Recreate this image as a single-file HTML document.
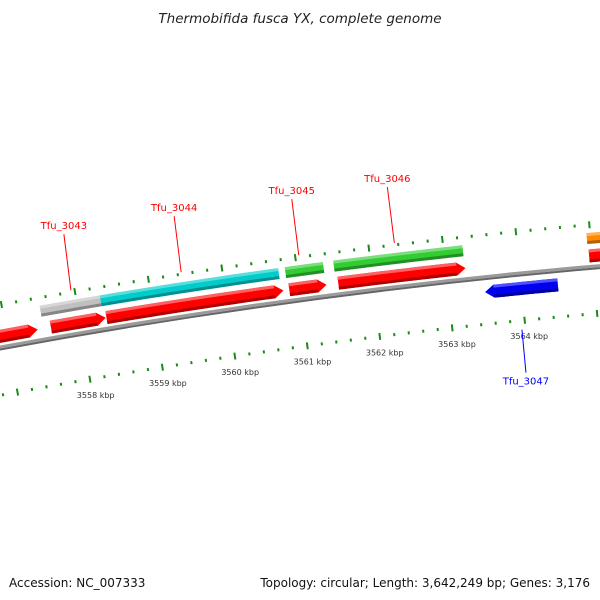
<!DOCTYPE html>
<html><head><meta charset="utf-8"><style>
html,body{margin:0;padding:0;background:#fff;}
svg{display:block;font-family:"DejaVu Sans","Liberation Sans",sans-serif;}
</style></head><body>
<svg id="c" width="600" height="600" xmlns="http://www.w3.org/2000/svg">
<text x="300" y="23" text-anchor="middle" font-size="13.5" font-style="italic" fill="#222">Thermobifida fusca YX, complete genome</text>
<text x="9" y="587" font-size="12" fill="#111">Accession: NC_007333</text>
<text x="590" y="587" text-anchor="end" font-size="12" fill="#111">Topology: circular; Length: 3,642,249 bp; Genes: 3,176</text>
<g id="g"></g>
</svg>
<script>
// data (kbp)
const fwdGenes = [[3556.3,3557.42],[3557.6,3558.35],[3558.36,3560.78],[3560.86,3561.37],[3561.53,3563.27],[3564.96,3566.5]];
const cdsStarts = [3557.5,3558.32,3560.84,3561.5,3564.95];
const cdsEnds = [3558.32,3560.75,3561.36,3563.26,3566.5];
const cdsColors = ['#c0c0c0','#00cccc','#33cc33','#33cc33','#ff8c00'];
const revGenes = [[3563.5,3564.5]];
const tickKbp = [3558,3559,3560,3561,3562,3563,3564];
const tickLabels = ['3558 kbp','3559 kbp','3560 kbp','3561 kbp','3562 kbp','3563 kbp','3564 kbp'];
const geneLabels = ['Tfu_3043','Tfu_3044','Tfu_3045','Tfu_3046'];
const geneLabelKbp = [3557.95,3559.45,3561.05,3562.35];

const g = document.getElementById('g');
const NS='http://www.w3.org/2000/svg';
function yb(x){return 347.5-0.185*x+8.2e-5*x*x;}
function sl(x){return -0.185+2*8.2e-5*x;}
function bx(k){return 82+73*(k-3558);}
function pt(k,off){const x=bx(k);const s=sl(x);const n=Math.sqrt(1+s*s);return [x+off*(-s)/n, yb(x)+off/n];}
function el(tag,attrs){const e=document.createElementNS(NS,tag);for(const a in attrs)e.setAttribute(a,attrs[a]);g.appendChild(e);return e;}
function band(k1,k2,o1,o2,fill,name){
  const ps=[];const N=12;
  for(let i=0;i<=N;i++)ps.push(pt(k1+(k2-k1)*i/N,o1));
  for(let i=N;i>=0;i--)ps.push(pt(k1+(k2-k1)*i/N,o2));
  const e=el('polygon',{points:ps.map(p=>p.join(',')).join(' '),fill:fill});
  
  
  return e;
}
function arrowGene(k1,k2,off,h,fill,light,dark,dir,name){
  const a=0.12;const ps=[];const N=12;
  const t=off-h/2,b=off+h/2;
  if(dir>0){
    for(let i=0;i<=N;i++)ps.push(pt(k1+(k2-a-k1)*i/N,t));
    ps.push(pt(k2,off));
    for(let i=N;i>=0;i--)ps.push(pt(k1+(k2-a-k1)*i/N,b));
  } else {
    ps.push(pt(k1,off));
    for(let i=0;i<=N;i++)ps.push(pt(k1+a+(k2-k1-a)*i/N,t));
    for(let i=N;i>=0;i--)ps.push(pt(k1+a+(k2-k1-a)*i/N,b));
  }
  const e=el('polygon',{points:ps.map(p=>p.join(',')).join(' '),fill:fill});
  
  
  const ka=dir>0?k1:k1+a, kb=dir>0?k2-a:k2;
  band(ka,kb,t,t+3,light,name+'-highlight');
  band(ka,kb,b-3,b,dark,name+'-shadow');
}
// backbone
band(3556,3566.5,-2,1,'#9a9a9a','backbone');
band(3556,3566.5,1,3,'#666','backbone-edge');
// ticks
function ticks(off,prefix){
  for(let k=3556;k<=3566.5;k+=0.2){
    const kk=Math.round(k*10)/10;
    const major=Math.abs(kk-Math.round(kk))<0.01;
    const len=major?7:3;
    const p1=pt(kk,off-len/2),p2=pt(kk,off+len/2);
    const e=el('line',{x1:p1[0],y1:p1[1],x2:p2[0],y2:p2[1],stroke:'#1a8a1a','stroke-width':2});
    
    
  }
}
ticks(-42,'upper-ring');
ticks(47,'lower-ring');
tickKbp.forEach((k,i)=>{
  const p=pt(k,63);
  const t=el('text',{x:p[0]+3,y:p[1]+3,'font-size':8,'text-anchor':'middle',fill:'#333'});
  t.textContent=tickLabels[i];
  
  
});
// CDS ring
cdsStarts.forEach((s,i)=>{
  band(s,cdsEnds[i],-34,-23,cdsColors[i],'cds-feature');
  band(s,cdsEnds[i],-34,-31,'rgba(255,255,255,0.35)','cds-highlight');
  band(s,cdsEnds[i],-26,-23,'rgba(0,0,0,0.3)','cds-shadow');
});
fwdGenes.forEach(gk=>arrowGene(gk[0],gk[1],-11,13,'#ff0000','#ff6060','#b00000',1,'forward-gene'));
revGenes.forEach(gk=>arrowGene(gk[0],gk[1],15,13,'#0000ee','#5050ff','#0000a0',-1,'reverse-gene'));
// labels
geneLabels.forEach((lab,i)=>{
  const k=geneLabelKbp[i];
  const p1=pt(k,-44),p2=[p1[0]-7,p1[1]-56];
  const ln=el('line',{x1:p1[0],y1:p1[1],x2:p2[0],y2:p2[1],stroke:'#ff0000','stroke-width':1});
  
  
  const t=el('text',{x:p2[0],y:p2[1]-5,'font-size':10,'text-anchor':'middle',fill:'#ff0000'});
  t.textContent=lab;
  
  
});
{
  const p1=pt(3563.95,56);
  const ln=el('line',{x1:p1[0],y1:p1[1],x2:p1[0]+4,y2:p1[1]+43,stroke:'#0000ff','stroke-width':1});
  
  
  const t=el('text',{x:p1[0]+4,y:p1[1]+55,'font-size':10,'text-anchor':'middle',fill:'#0000ff'});
  t.textContent='Tfu_3047';
  
  
}
</script>
</body></html>
